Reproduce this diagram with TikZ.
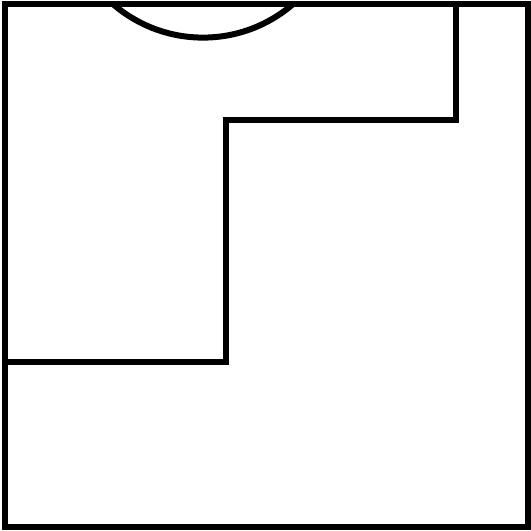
\documentclass[tikz,border=0pt]{standalone}
\begin{document}
\begin{tikzpicture}[x=0.02cm,y=-0.02cm,wall/.style={line width=0.12cm,black}]
\useasboundingbox (0,0) rectangle (531,531);
\coordinate (tl) at (5,4);
\coordinate (br) at (528,527);
\coordinate (s1) at (455.5,4);
\coordinate (s2) at (455.5,119.5);
\coordinate (s3) at (226,119.5);
\coordinate (s4) at (226,361.5);
\coordinate (s5) at (5,361.5);
\begin{scope}
\clip (0,4) rectangle (531,200);
\draw[wall] (203,-100) circle[radius=137.6];
\end{scope}
\draw[wall] (s1) -- (s2) -- (s3) -- (s4) -- (s5);
\draw[wall] (tl) rectangle (br);
\end{tikzpicture}
\end{document}
